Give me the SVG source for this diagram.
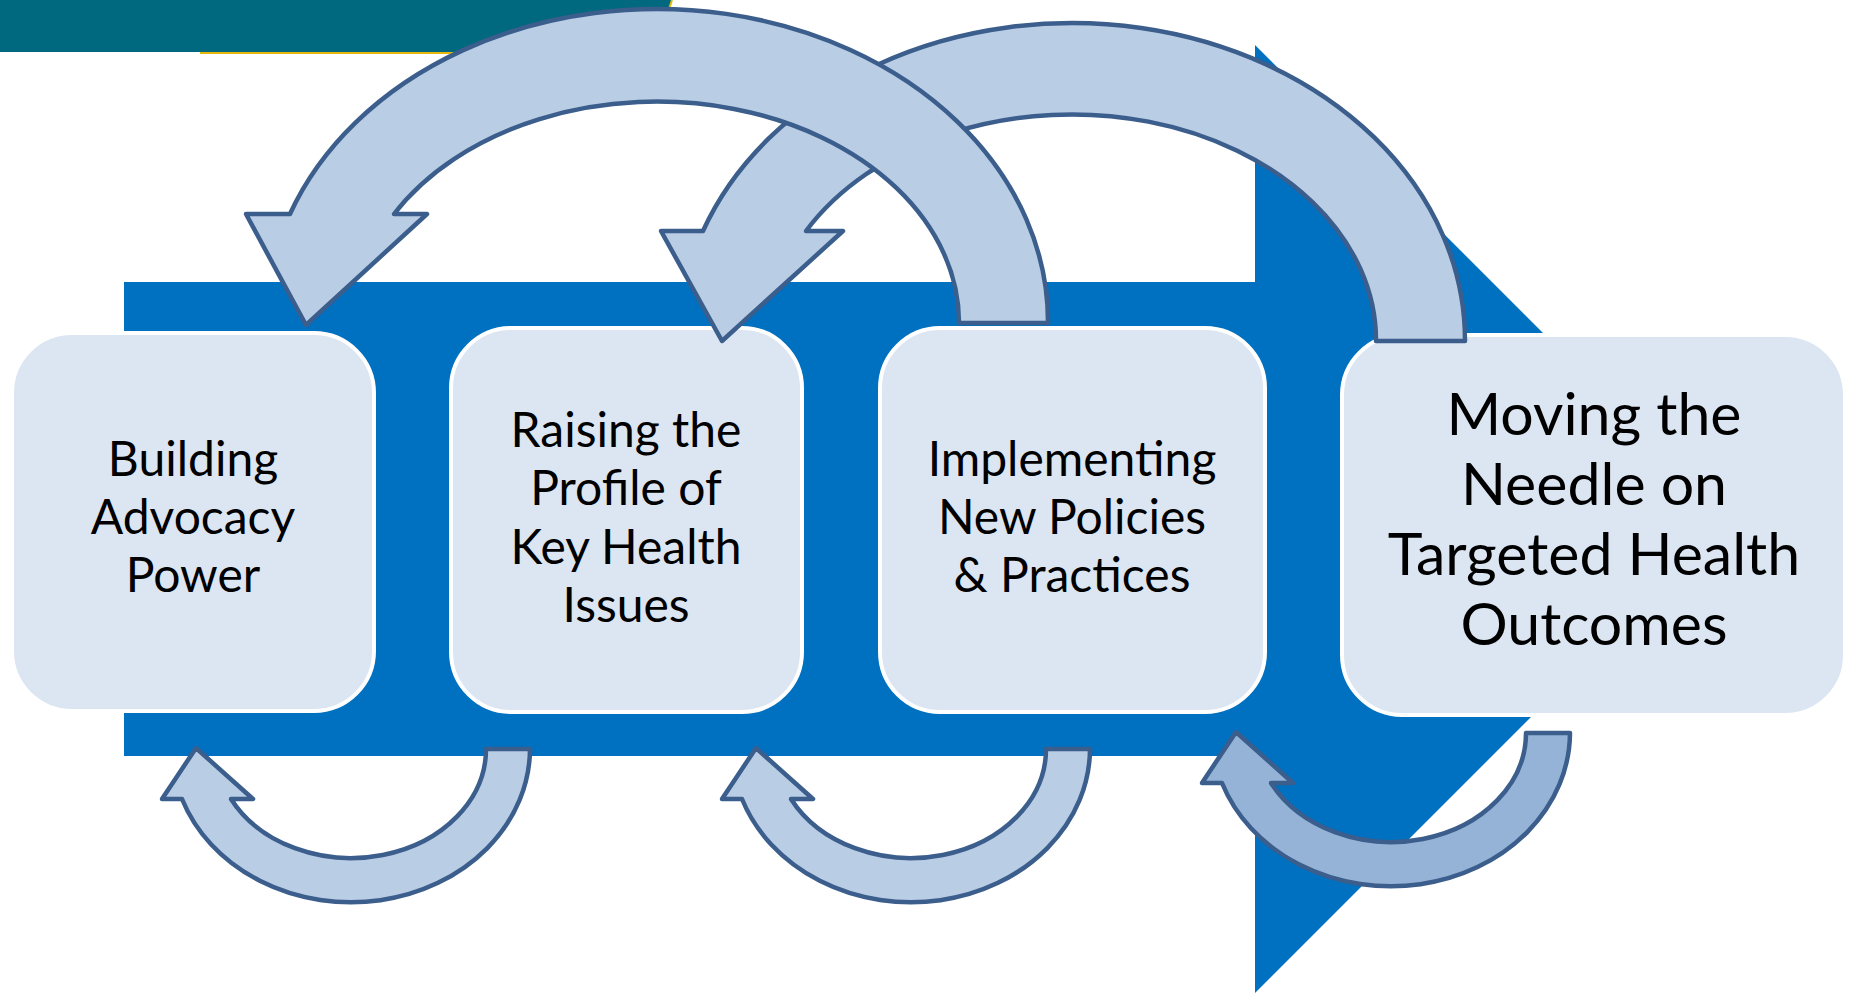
<svg xmlns="http://www.w3.org/2000/svg" width="1857" height="993" viewBox="0 0 1857 993">
<style>
.node{fill:#DCE6F2;stroke:#FFFFFF;stroke-width:4}
.t{font-family:Lato,"Open Sans",sans-serif;fill:#000;text-anchor:middle}
.s{font-size:48px}
.b{font-size:59px}
.arr{fill:#B9CDE5;stroke:#3B5E8C;stroke-width:4.5;stroke-linejoin:round}
.arr2{fill:#95B3D7;stroke:#3B5E8C;stroke-width:4.5;stroke-linejoin:round}
</style>
<rect width="1857" height="993" fill="#FFFFFF"/>
<g id="banner">
<polygon points="0,0 672,0 655,52 0,52" fill="#00687F"/>
<line x1="200" y1="53" x2="656" y2="53" stroke="#E5B80B" stroke-width="2"/>
<line x1="672" y1="0" x2="655" y2="52" stroke="#E5B80B" stroke-width="2"/>
</g>
<g id="backdrop">
<polygon points="124,282 1255,282 1255,45 1729,519 1255,993 1255,756 124,756" fill="#0070C0"/>
</g>
<g id="node1">
<rect class="node" x="12" y="333" width="362" height="378" rx="60"/>
<text class="t s"><tspan x="193" y="476">Building</tspan><tspan x="193" y="534">Advocacy</tspan><tspan x="193" y="592">Power</tspan></text>
</g>
<g id="node2">
<rect class="node" x="451" y="328" width="351" height="384" rx="60"/>
<text class="t s"><tspan x="626" y="447">Raising the</tspan><tspan x="626" y="505">Profile of</tspan><tspan x="626" y="564">Key Health</tspan><tspan x="626" y="622">Issues</tspan></text>
</g>
<g id="node3">
<rect class="node" x="880" y="328" width="385" height="384" rx="60"/>
<text class="t s"><tspan x="1072" y="476">Implementing</tspan><tspan x="1072" y="534">New Policies</tspan><tspan x="1072" y="592">&amp; Practices</tspan></text>
</g>
<g id="node4">
<rect class="node" x="1342" y="335" width="503" height="380" rx="60"/>
<text class="t b"><tspan x="1594" y="435">Moving the</tspan><tspan x="1594" y="505">Needle on</tspan><tspan x="1594" y="575">Targeted Health</tspan><tspan x="1594" y="645">Outcomes</tspan></text>
</g>
<g id="connectors">
<path class="arr" d="M 1465,341 A 393,317 0 0 0 703,231 L 661,231 L 722,341 L 843,231 L 806,231 A 304,226 0 0 1 1376,341 Z"/>
<path class="arr" d="M 1048,323 A 391,313 0 0 0 290,214 L 246,214 L 306,325 L 427,214 L 394,214 A 302,221 0 0 1 959,323 Z"/>
<path class="arr" d="M 530,749 A 179,154 0 0 1 182,799 L 162,799 L 196,748 L 253,799 L 231,799 A 135,109 0 0 0 486,749 Z"/>
<path class="arr" d="M 1090,749 A 179,154 0 0 1 742,799 L 722,799 L 756,748 L 813,799 L 791,799 A 135,109 0 0 0 1046,749 Z"/>
<path class="arr2" d="M 1570,733 A 179,154 0 0 1 1222,783 L 1202,783 L 1236,732 L 1293,783 L 1271,783 A 135,109 0 0 0 1526,733 Z"/>
</g>
</svg>
